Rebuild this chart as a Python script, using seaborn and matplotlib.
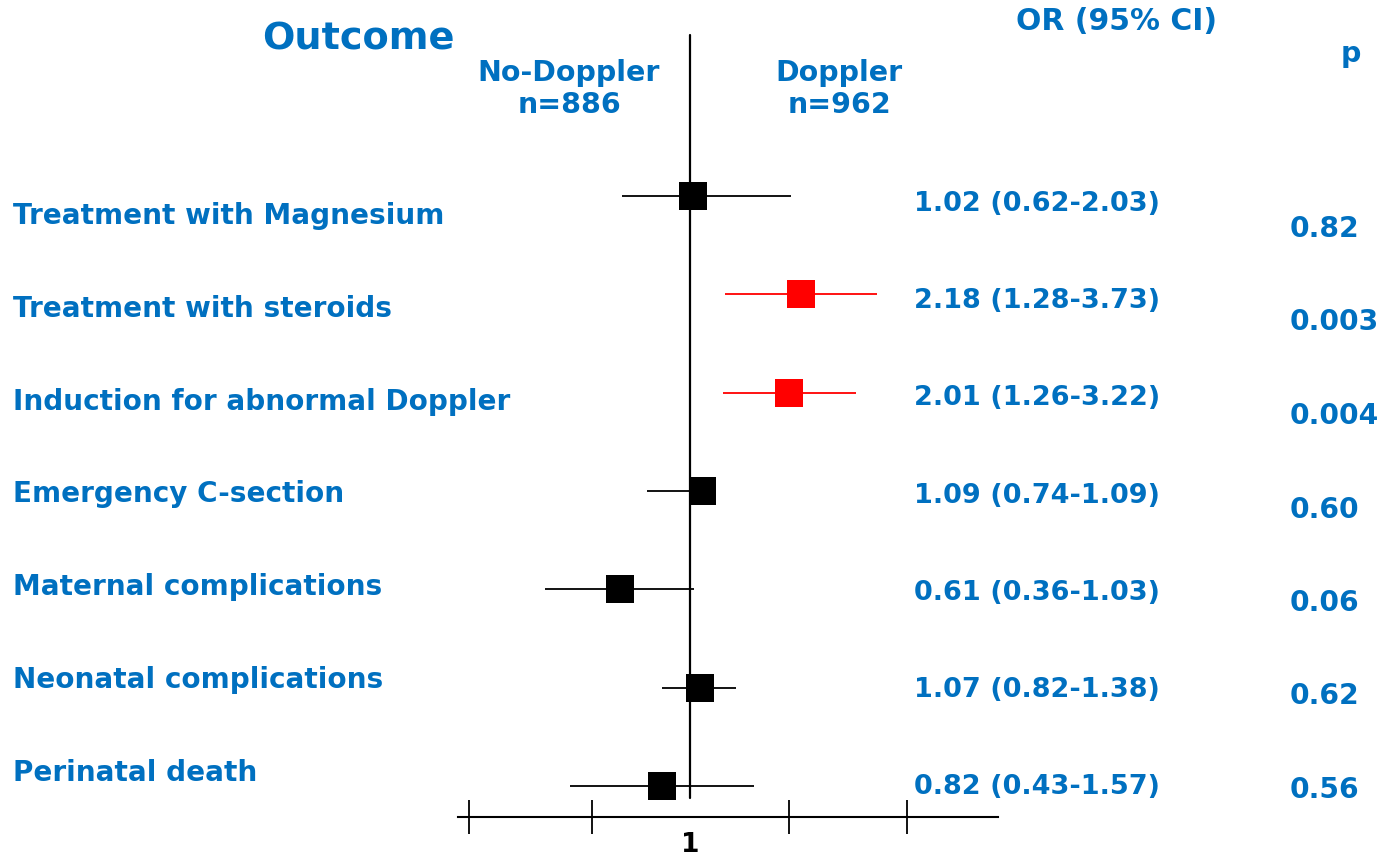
import matplotlib
matplotlib.use("Agg")
import matplotlib.pyplot as plt
import seaborn as sns
import pandas as pd

# ---- data ----
outcomes = ["Treatment with Magnesium", "Treatment with steroids",
            "Induction for abnormal Doppler", "Emergency C-section",
            "Maternal complications", "Neonatal complications", "Perinatal death"]
odds_ratio = [1.02, 2.18, 2.01, 1.09, 0.61, 1.07, 0.82]
ci_lower = [0.62, 1.28, 1.26, 0.74, 0.36, 0.82, 0.43]
ci_upper = [2.03, 3.73, 3.22, 1.09, 1.03, 1.38, 1.57]
p_values = ["0.82", "0.003", "0.004", "0.60", "0.06", "0.62", "0.56"]
group_left = "No-Doppler\nn=886"
group_right = "Doppler\nn=962"
axis_ticks = [0.21, 0.5, 2, 4.6]
axis_label_tick = [1]

df = pd.DataFrame({
    "outcome": outcomes,
    "row": range(len(outcomes)),
    "or": odds_ratio,
    "lo": ci_lower,
    "hi": ci_upper,
    "p": p_values,
})
df["sig"] = df["p"].astype(float) < 0.05
df["or_text"] = [f"{o:.2f} ({l:.2f}-{h:.2f})" for o, l, h in zip(df["or"], df["lo"], df["hi"])]

BLUE = "#0070C0"
RED = "#FF0000"

sns.set_theme(style="white")
plt.rcParams["font.family"] = ["DejaVu Sans"]

W, H = 1384, 859
fig = plt.figure(figsize=(W / 100, H / 100), dpi=100)
ax = fig.add_axes([458 / W, 1 - 817 / H, 540 / W, 782 / H])

ax.set_xscale("log", base=2)
ax.set_xlim(0.195, 8.73)
ax.set_ylim(6.315, -1.637)

colors = [RED if s else "black" for s in df["sig"]]
ax.hlines(df["row"], df["lo"], df["hi"], colors=colors, linewidth=1.3, zorder=2)
sns.scatterplot(data=df, x="or", y="row", hue="sig",
                palette={True: RED, False: "black"}, marker="s", s=400,
                edgecolor="none", legend=False, ax=ax, zorder=3)
ax.plot([1, 1], [6.12, -1.637], color="black", linewidth=1.6, clip_on=False, zorder=4)

for s in ["left", "top", "right"]:
    ax.spines[s].set_visible(False)
ax.spines["bottom"].set_linewidth(1.5)
ax.spines["bottom"].set_color("black")
ax.set_yticks([])
ax.set_xticks(axis_ticks)
ax.set_xticklabels([])
ax.set_xticks(axis_label_tick, [str(v) for v in axis_label_tick], minor=True)
ax.tick_params(axis="x", which="major", direction="inout", length=24, width=1.3,
               color="black", bottom=True)
ax.tick_params(axis="x", which="minor", length=0, pad=11, labelsize=19,
               labelcolor="black")
for t in ax.get_xticklabels(minor=True):
    t.set_fontweight("bold")
ax.set_xlabel("")
ax.set_ylabel("")

def ftext(xpx, ypx, s, size, **kw):
    fig.text(xpx / W, 1 - ypx / H, s, fontsize=size,
             fontweight="bold", color=kw.pop("color", BLUE), **kw)

# headers
ftext(358, 40, "Outcome", 27.5, ha="center", va="center")
ftext(1117, 22, "OR (95% CI)", 21.5, ha="center", va="center")
ftext(1351, 54, "p", 20.5, ha="center", va="center")
ftext(569, 89, group_left, 20.5, ha="center", va="center", linespacing=1.15)
ftext(839, 89, group_right, 20.5, ha="center", va="center", linespacing=1.15)

n = len(df)
for i, r in df.iterrows():
    ftext(13, 216 + i * (773 - 216) / (n - 1), r["outcome"], 20.1, ha="left", va="center")
    ftext(914, 204 + i * (787 - 204) / (n - 1), r["or_text"], 19.5, ha="left", va="center")
    ftext(1290, 229 + i * (790 - 229) / (n - 1), r["p"], 20.3, ha="left", va="center")

fig.savefig("out.png", dpi=100)
